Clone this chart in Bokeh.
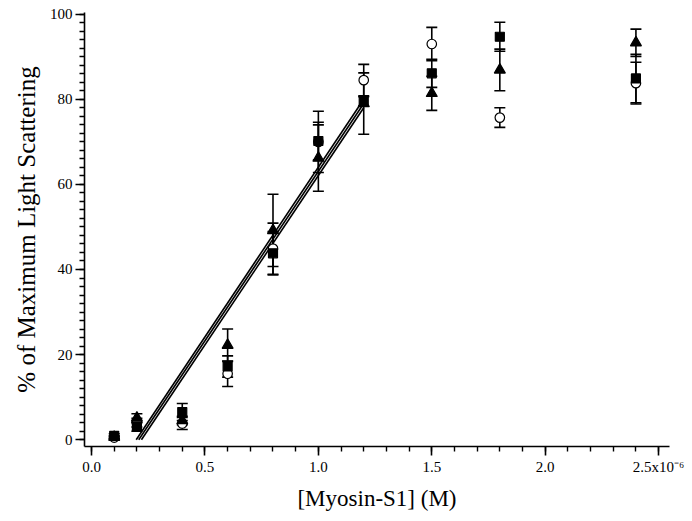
from bokeh.plotting import figure
from bokeh.models import ColumnDataSource, Whisker, TeeHead, Range1d, SingleIntervalTicker, CustomJSTickFormatter
from bokeh.embed import file_html
from bokeh.resources import INLINE

# [Myosin-S1] in units of 1e-6 M
conc = [0.1, 0.2, 0.4, 0.6, 0.8, 1.0, 1.2, 1.5, 1.8, 2.4]

sq_val = [0.9, 3.0, 6.5, 17.2, 43.8, 70.2, 79.5, 86.1, 94.7, 84.9]
sq_err = [0.5, 1.0, 2.0, 2.5, 5.1, 4.4, 1.1, 3.3, 3.4, 5.7]

tri_val = [0.6, 5.1, 4.5, 22.2, 49.2, 66.2, 79.0, 81.4, 86.9, 93.3]
tri_err = [0.3, 1.0, 1.0, 3.8, 8.5, 7.8, 7.2, 4.0, 4.9, 3.2]

circ_val = [0.5, 4.0, 3.8, 15.5, 44.9, 70.0, 84.5, 93.0, 75.7, 83.8]
circ_err = [0.3, 1.0, 1.4, 3.0, 6.0, 7.2, 3.7, 3.9, 2.3, 4.9]

# linear fits (start/end points)
fit_x_start = [0.197, 0.208, 0.220]
fit_x_end = [1.2, 1.2, 1.2]
fit_y_start = [0.0, 0.0, 0.0]
fit_y_end = [80.0, 79.0, 78.0]

x_label = "[Myosin-S1] (M)"
y_label = "% of Maximum Light Scattering"
x_last_tick = 2.5
x_last_tick_label = "2.5x10\u207b\u2076"

FONT = "Times New Roman"

p = figure(frame_width=585, frame_height=434,
           x_range=Range1d(-0.031, 2.548), y_range=Range1d(-1.6, 100.4),
           output_backend="svg", toolbar_location=None,
           min_border_left=84, min_border_right=20, min_border_top=12, min_border_bottom=68,
           x_axis_label=x_label, y_axis_label=y_label)
p.outline_line_color = None
p.xgrid.visible = False
p.ygrid.visible = False
p.background_fill_color = "white"
p.border_fill_color = "white"

for ax in (p.xaxis[0], p.yaxis[0]):
    ax.axis_line_width = 1.6
    ax.major_tick_line_width = 1.6
    ax.minor_tick_line_width = 1.4
    ax.major_tick_in = 0
    ax.major_tick_out = 9
    ax.minor_tick_in = 0
    ax.minor_tick_out = 5
    ax.major_label_text_font = FONT
    ax.major_label_text_font_size = "15px"
    ax.major_label_text_color = "black"
    ax.axis_label_text_font = FONT
    ax.axis_label_text_font_size = "23px"
    ax.axis_label_text_font_style = "normal"
    ax.axis_label_text_color = "black"
    ax.axis_line_color = "black"
    ax.major_tick_line_color = "black"
    ax.minor_tick_line_color = "black"

p.yaxis[0].axis_label_text_font_size = "25px"

p.xaxis[0].ticker = SingleIntervalTicker(interval=0.5, num_minor_ticks=5)
p.yaxis[0].ticker = SingleIntervalTicker(interval=20, num_minor_ticks=10)
p.xaxis[0].major_label_overrides = {x_last_tick: x_last_tick_label}
p.xaxis[0].major_label_standoff = 3
p.xaxis[0].axis_label_standoff = 8
p.yaxis[0].major_label_standoff = 3
p.yaxis[0].axis_label_standoff = 7

p.xaxis[0].formatter = CustomJSTickFormatter(code="return tick.toFixed(1);")
p.yaxis[0].formatter = CustomJSTickFormatter(code="return tick.toFixed(0);")

# fit lines
for xs, xe, ys, ye in zip(fit_x_start, fit_x_end, fit_y_start, fit_y_end):
    p.line([xs, xe], [ys, ye], line_color="black", line_width=1.6)

def add_series(vals, errs, marker, size, fill):
    src = ColumnDataSource(dict(x=conc, y=vals,
                                lo=[v - e for v, e in zip(vals, errs)],
                                hi=[v + e for v, e in zip(vals, errs)]))
    w = Whisker(source=src, base="x", upper="hi", lower="lo", dimension="height",
                line_color="black", line_width=1.6,
                upper_head=TeeHead(size=11, line_color="black", line_width=1.6),
                lower_head=TeeHead(size=11, line_color="black", line_width=1.6))
    p.add_layout(w)
    p.scatter("x", "y", source=src, marker=marker, size=size,
              fill_color=fill, line_color="black", line_width=1.2)

add_series(circ_val, circ_err, "circle", 9.5, "white")
add_series(tri_val, tri_err, "triangle", 11, "black")
add_series(sq_val, sq_err, "square", 9, "black")

open("out.html", "w").write(file_html(p, INLINE))
